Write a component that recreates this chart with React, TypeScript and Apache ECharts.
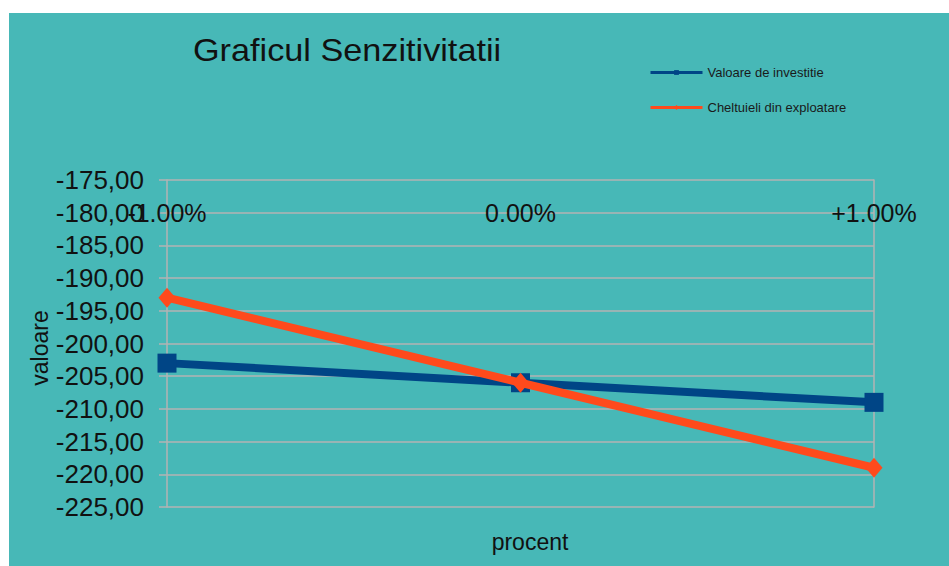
import React, { useEffect, useRef } from "react";
import * as echarts from "echarts";

const categories = ["-1.00%", "0.00%", "+1.00%"];
const investitie = [-203, -206, -209];
const exploatare = [-193, -206, -219];
const seriesNames = ["Valoare de investitie", "Cheltuieli din exploatare"];
const yMin = -225;
const yMax = -175;
const yStep = 5;

const FONT = "'Liberation Sans', Arial, sans-serif";

export default function App() {
  const ref = useRef<HTMLDivElement>(null);
  useEffect(() => {
    if (!ref.current) return;
    const chart = echarts.init(ref.current, null, { renderer: "svg" });
    chart.setOption({
      animation: false,
      backgroundColor: "#47b8b7",
      textStyle: { fontFamily: FONT },
      grid: { left: 158, top: 167, right: 75, bottom: 59, containLabel: false },
      legend: {
        orient: "vertical",
        left: 640,
        top: 53,
        padding: 0,
        itemWidth: 52,
        itemHeight: 6,
        itemGap: 22,
        lineStyle: { width: 3 },
        textStyle: { fontSize: 13, color: "#1a1a1a", fontFamily: FONT },
        data: seriesNames,
      },
      graphic: [
        {
          type: "text",
          x: 184,
          y: 37,
          scaleX: 1.07,
          style: {
            text: "Graficul Senzitivitatii",
            fontSize: 32,
            fontFamily: FONT,
            fill: "#111",
            verticalAlign: "middle",
          },
        },
        {
          type: "text",
          x: 31,
          y: 335,
          rotation: Math.PI / 2,
          style: {
            text: "valoare",
            fontSize: 23,
            fontFamily: FONT,
            fill: "#111",
            align: "center",
            verticalAlign: "middle",
          },
        },
        {
          type: "text",
          x: 521,
          y: 529,
          style: {
            text: "procent",
            fontSize: 23,
            fontFamily: FONT,
            fill: "#111",
            align: "center",
            verticalAlign: "middle",
          },
        },
      ],
      xAxis: {
        type: "category",
        data: categories,
        boundaryGap: false,
        position: "top",
        axisLine: { show: false },
        axisTick: { show: false },
        splitLine: { show: false },
        axisLabel: {
          inside: true,
          margin: 20,
          fontSize: 25,
          color: "#111",
          fontFamily: FONT,
        },
      },
      yAxis: [
        {
          type: "value",
          min: yMin,
          max: yMax,
          interval: yStep,
          axisLine: { show: true, lineStyle: { color: "#b3b3b3", width: 1.5 } },
          axisTick: { show: true, length: 8, lineStyle: { color: "#b3b3b3", width: 1.5 } },
          splitLine: { show: true, lineStyle: { color: "#b3b3b3", width: 1.5 } },
          axisLabel: {
            margin: 23,
            fontSize: 26,
            color: "#111",
            fontFamily: FONT,
            formatter: (v: number) => v.toFixed(2).replace(".", ","),
          },
        },
        {
          type: "value",
          min: yMin,
          max: yMax,
          interval: yStep,
          position: "right",
          axisLine: { show: true, lineStyle: { color: "#b3b3b3", width: 1.5 } },
          axisTick: { show: false },
          splitLine: { show: false },
          axisLabel: { show: false },
        },
      ],
      series: [
        {
          name: seriesNames[0],
          type: "line",
          data: investitie,
          yAxisIndex: 0,
          symbol: "rect",
          symbolSize: 19,
          lineStyle: { color: "#004586", width: 8 },
          itemStyle: { color: "#004586" },
          z: 2,
        },
        {
          name: seriesNames[1],
          type: "line",
          data: exploatare,
          yAxisIndex: 0,
          symbol: "diamond",
          symbolSize: [17, 20],
          lineStyle: { color: "#ff4a1c", width: 8 },
          itemStyle: { color: "#ff4a1c" },
          z: 3,
        },
      ],
    });
    return () => chart.dispose();
  }, []);
  return (
    <div style={{ position: "absolute", left: 0, top: 0, width: 949, height: 566, background: "#fff" }}>
      <div ref={ref} style={{ position: "absolute", left: 9, top: 13, width: 940, height: 553 }} />
    </div>
  );
}
